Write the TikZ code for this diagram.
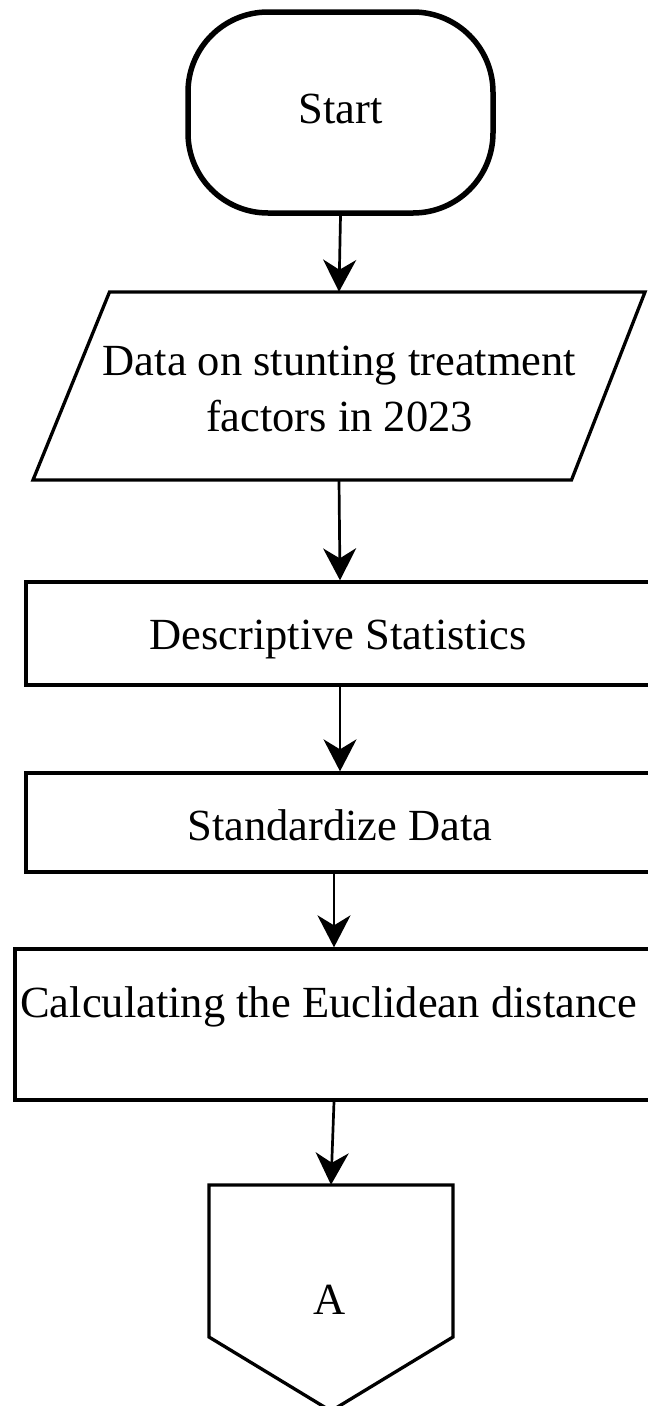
\documentclass[tikz,border=0pt]{standalone}
\usepackage{fontspec}
\setmainfont{Liberation Serif}
\usetikzlibrary{arrows.meta}
\begin{document}
\begin{tikzpicture}[x=1pt,y=-1pt,
  box/.style={draw=black, line width=3.3pt, fill=white, inner sep=0pt},
  frame/.style={inner sep=0pt},
  outline/.style={draw=black, line width=3.3pt, line join=miter},
  txt/.style={font=\fontsize{44.5}{56}\selectfont, inner sep=0pt, anchor=base, text=black},
  flow/.style={draw=black, line width=2.7pt, -{Stealth[length=32pt,width=33pt,inset=10pt]}},
]
\useasboundingbox (0,0) rectangle (648,1406);

% terminator
\node[box, line width=5.5pt, rounded corners=80pt,
      minimum width=305pt, minimum height=201pt] (start) at (340.5,112.5) {};
\node[txt] (start-t) at (340.5,123) {Start};

% input / data (parallelogram)
\node[frame, minimum width=612pt, minimum height=188pt] (data) at (339,386) {};
\draw[outline] (33,480) -- (109.5,292) -- (645,292) -- (571.5,480) -- cycle;
\node[txt] (data-t1) at (339.5,375) {Data on stunting treatment};
\node[txt] (data-t2) at (339.5,431) {factors in 2023};

% process steps
\node[box, minimum width=628pt, minimum height=103pt] (desc) at (340,633.5) {};
\node[txt] (desc-t) at (338,649) {Descriptive Statistics};

\node[box, minimum width=628pt, minimum height=99pt] (stand) at (340,822.5) {};
\node[txt] (stand-t) at (340,840) {Standardize Data};

\node[box, minimum width=638pt, minimum height=151pt] (calc) at (334,1024.5) {};
\node[txt] (calc-t) at (328.5,1017) {Calculating the Euclidean distance};

% off-page connector
\node[frame, minimum width=244pt, minimum height=226pt] (off) at (331,1298) {};
\draw[outline] (209,1185) -- (453,1185) -- (453,1337) -- (331,1411) -- (209,1337) -- cycle;
\node[txt] (off-t) at (330,1314) {A};

% connectors
\draw[flow] (start.south) -- (data.north);
\draw[flow] (data.south) -- (desc.north);
\draw[flow] (desc.south) -- (stand.north);
\draw[flow] ([xshift=-6pt]stand.south) -- (calc.north);
\draw[flow] (calc.south) -- (off.north);
\end{tikzpicture}
\end{document}
